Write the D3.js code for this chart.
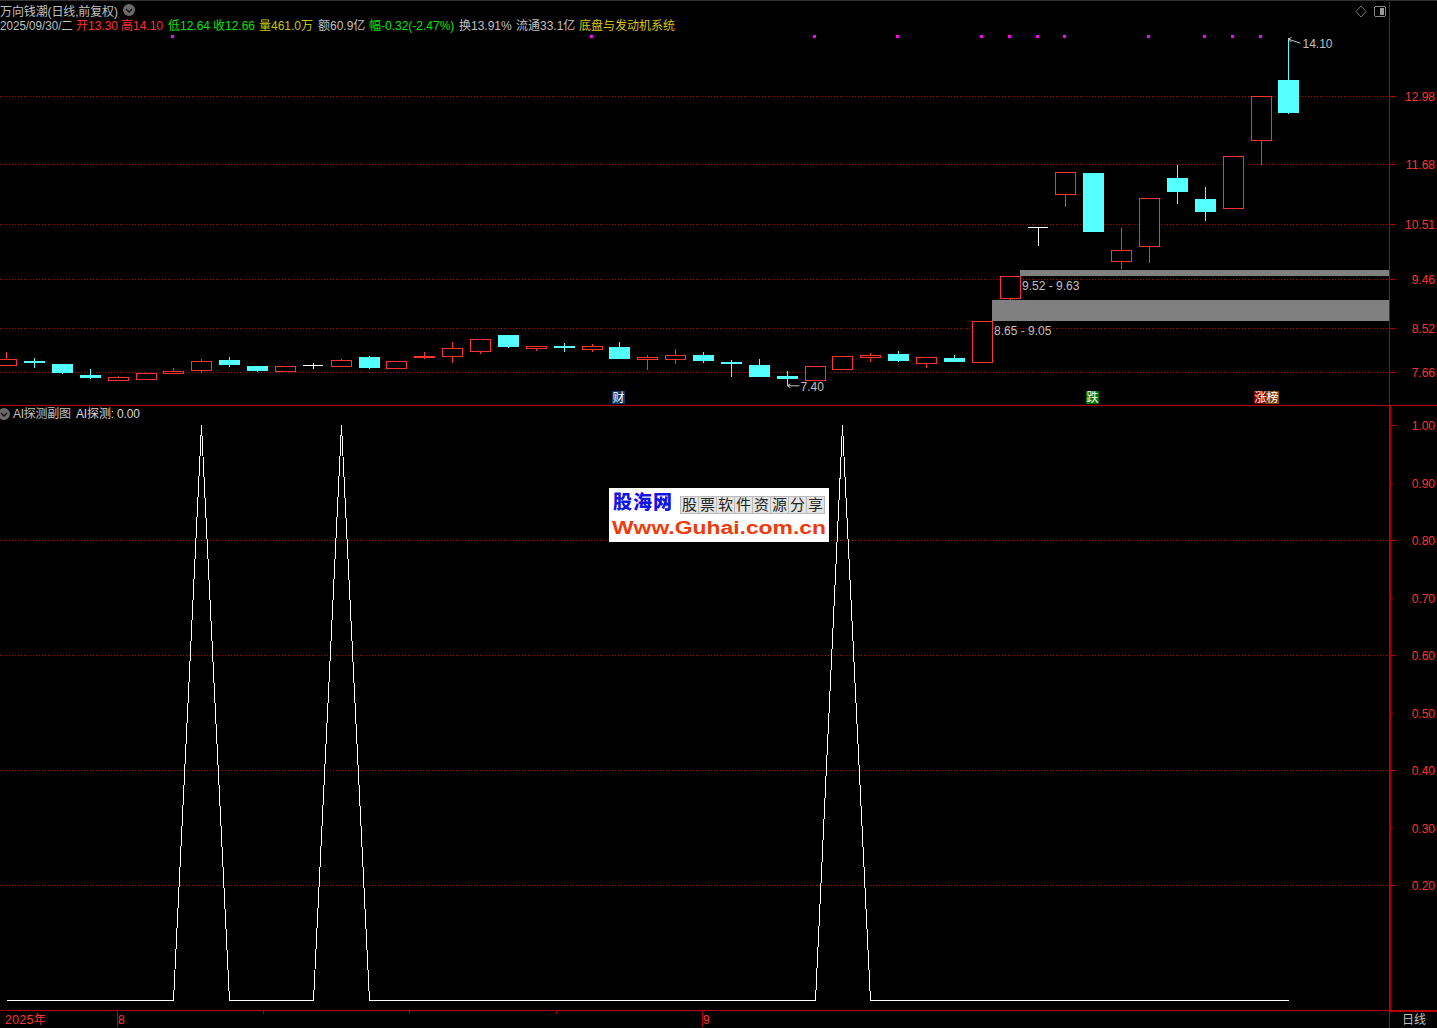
<!DOCTYPE html>
<html><head><meta charset="utf-8">
<script src="https://cdn.jsdelivr.net/npm/d3@7/dist/d3.min.js"></script>
<style>
html,body{margin:0;padding:0;background:#000;overflow:hidden}
svg{display:block}
text{font-family:"Liberation Sans","Noto Sans CJK SC",sans-serif;font-size:12px}
</style></head><body>
<script>
const opens =[7.81,7.88,7.82,7.61,7.52,7.54,7.64,7.70,7.90,7.79,7.68,7.80,7.79,7.96,7.75,7.95,7.98,8.08,8.37,8.12,8.17,8.10,8.15,7.91,7.91,8.00,7.86,7.80,7.59,7.52,7.73,7.95,8.02,7.83,7.94,7.85,9.10,10.46,11.09,11.51,9.80,10.10,11.40,11.01,10.83,12.14,13.30];
const closes=[7.92,7.84,7.65,7.55,7.57,7.65,7.68,7.88,7.80,7.69,7.78,7.80,7.90,7.75,7.88,7.98,8.13,8.30,8.15,8.17,8.13,8.17,7.92,7.95,7.99,7.88,7.82,7.57,7.53,7.78,7.97,7.99,7.88,7.95,7.86,8.65,9.52,10.46,11.53,10.37,10.02,11.02,11.13,10.75,11.82,12.99,12.66];
const highs =[8.06,7.93,7.82,7.73,7.59,7.65,7.75,7.92,7.96,7.79,7.78,7.84,7.92,7.98,7.88,8.06,8.25,8.30,8.38,8.17,8.23,8.21,8.25,8.00,8.11,8.06,7.90,7.92,7.69,7.78,7.97,8.04,8.08,7.95,8.00,8.65,9.52,10.46,11.53,11.51,10.45,11.02,11.65,11.24,11.82,12.99,14.10];
const lows  =[7.81,7.75,7.63,7.53,7.52,7.52,7.64,7.64,7.77,7.66,7.68,7.73,7.77,7.72,7.75,7.92,7.83,8.02,8.12,8.08,8.06,8.06,7.92,7.71,7.82,7.84,7.57,7.57,7.40,7.50,7.73,7.86,7.86,7.75,7.86,7.85,9.06,10.10,10.84,10.37,9.65,9.76,10.90,10.57,10.83,11.65,12.64];
const probe =[0,0,0,0,0,0,0,1,0,0,0,0,1,0,0,0,0,0,0,0,0,0,0,0,0,0,0,0,0,0,1,0,0,0,0,0,0,0,0,0,0,0,0,0,0,0,0];
const signalIdx=[6,21,29,32,35,36,37,38,41,43,44,45];
const priceTicks=[12.98,11.68,10.51,9.46,8.52,7.66];
const probeTicks=[1,0.9,0.8,0.7,0.6,0.5,0.4,0.3,0.2];
const probeGrid=[0.8,0.6,0.4,0.2];
const zoneStart=[35,36], zoneLow=[8.65,9.52], zoneHigh=[9.05,9.63];
const zoneLabels=["8.65 - 9.05","9.52 - 9.63"];
const monthIdx=[4,25], monthLabels=["8","9"], minorIdx=[9.25,14.5,19.75];
const headerTexts=["2025/09/30/二","开13.30","高14.10","低12.64","收12.66","量461.0万","额60.9亿","幅-0.32(-2.47%)","换13.91%","流通33.1亿","底盘与发动机系统"];
const headerX=[0,76,121,168,213,259,318,369,459,516,579];
const headerC=["#c0c0c0","#ff3232","#ff3232","#00e600","#00e600","#c8c800","#c0c0c0","#00e600","#c0c0c0","#c0c0c0","#d8c800"];
const badges=[["财",612,"#0a3d6e"],["跌",1086,"#007000"],["涨",1254,"#800000"],["榜",1266,"#804000"]];

const RED="#ff3232",DARK="#b80000",CY="#54ffff",GREY="#c0c0c0";
const svg=d3.select("body").append("svg").attr("width",1437).attr("height",1028);
svg.append("rect").attr("width",1437).attr("height",1028).attr("fill","#000");
const x=d3.scaleLinear().domain([0,46]).range([5.75,1288]);
const yP=d3.scaleLinear().domain([7.66,12.98]).range([372.3,96.3]);
const yA=d3.scaleLinear().domain([0,1]).range([1000,425]);
const px=i=>Math.ceil(x(i));
const crisp=svg.append("g").attr("shape-rendering","crispEdges");
const ln=(g,x1,y1,x2,y2,c,w=1,d)=>g.append("line").attr("x1",x1).attr("y1",y1).attr("x2",x2).attr("y2",y2).attr("stroke",c).attr("stroke-width",w).attr("stroke-dasharray",d||null);
const txt=(t,xx,yy,c,a)=>svg.append("text").text(t).attr("x",xx).attr("y",yy).attr("fill",c).attr("text-anchor",a||"start");

// frame
crisp.append("rect").attr("x",0).attr("y",0).attr("width",1437).attr("height",1).attr("fill","#333");
ln(crisp,0,405.5,1437,405.5,DARK);
ln(crisp,0,1010.5,1389,1010.5,DARK);
ln(crisp,1389.5,2,1389.5,405,DARK);
crisp.append("rect").attr("x",1389).attr("y",406).attr("width",2).attr("height",605).attr("fill",DARK);
crisp.append("rect").attr("x",1389).attr("y",1010).attr("width",48).attr("height",2).attr("fill",DARK);
ln(crisp,1389.5,1012,1389.5,1028,DARK);

// grids
priceTicks.forEach(t=>{const y=Math.round(yP(t))+.5;
  ln(crisp,0,y,1389,y,DARK,1,"1 2");ln(crisp,1390,y,1395,y,DARK);
  txt(d3.format(".2f")(t),1435,y+4,RED,"end");});
probeGrid.forEach(t=>{const y=Math.floor(yA(t))+.5;ln(crisp,0,y,1389,y,DARK,1,"1 2");});
probeTicks.forEach(t=>{const y=Math.ceil(yA(t))+.5,major=probeGrid.includes(t)||t===1;
  ln(crisp,1391,y,major?1396:1393,y,DARK);
  txt(d3.format(".2f")(t),1435,y+4,RED,"end");});

// zones
zoneStart.forEach((s,i)=>{const l=px(s)+10,top=Math.round(yP(zoneHigh[i])),bot=Math.round(yP(zoneLow[i]));
  crisp.append("rect").attr("x",l).attr("y",top).attr("width",1389-l).attr("height",bot-top).attr("fill","#808080");
  txt(zoneLabels[i],l+2,bot+14,GREY);});

// candles
opens.forEach((o,i)=>{
  const c=closes[i],cx=px(i),w=cx+.5;
  const col=o===c?"#fff":(c>o?RED:CY);
  const t=Math.round(yP(Math.max(o,c))),b=Math.round(yP(Math.min(o,c)));
  ln(crisp,w,Math.round(yP(highs[i])),w,Math.round(yP(lows[i])),col);
  if(o===c){ln(crisp,cx-10,t+.5,cx+10,t+.5,col);}
  else if(c>o){crisp.append("rect").attr("x",cx-9.5).attr("y",t+.5).attr("width",20).attr("height",Math.max(1,b-t)).attr("fill","#000").attr("stroke",col);}
  else{crisp.append("rect").attr("x",cx-10).attr("y",t).attr("width",21).attr("height",Math.max(2,b-t)).attr("fill",col);}
});
// signals
signalIdx.forEach(i=>crisp.append("rect").attr("x",px(i)-2).attr("y",35).attr("width",3).attr("height",3).attr("fill","#ff00ff"));

// extreme labels
const iMax=highs.indexOf(d3.max(highs)),iMin=lows.indexOf(d3.min(lows));
const ax=px(iMax)+.5,ay=yP(highs[iMax]);
svg.append("path").attr("d",`M${ax},${ay+1}L${ax+12},${ay+5}M${ax},${ay+1}L${ax+3},${ay-1}M${ax},${ay+1}L${ax+3},${ay+4}`).attr("stroke",GREY).attr("fill","none");
txt("14.10",ax+14,ay+9.5,GREY);
const bx=px(iMin)+.5,by=yP(lows[iMin]);
svg.append("path").attr("d",`M${bx},${by}L${bx+12},${by}M${bx},${by}L${bx+3},${by-2}M${bx},${by}L${bx+3},${by+2}`).attr("stroke",GREY).attr("fill","none");
txt("7.40",bx+13,by+5,GREY);

// badges
badges.forEach(([t,l,c])=>{crisp.append("rect").attr("x",l).attr("y",391).attr("width",13).attr("height",13).attr("fill",c);
  txt(t,l+6.5,402,"#fff","middle");});

// probe line
const line=d3.line().x((d,i)=>px(i)+.5).y(d=>Math.floor(yA(d))+.5);
crisp.append("path").datum(probe).attr("d",line).attr("fill","none").attr("stroke","#fff");

// time axis
txt("2025年",5,1024,RED).attr("textLength",41);
monthIdx.forEach((m,i)=>{const xx=Math.floor(x(m))+.5;ln(crisp,xx,1011,xx,1027,DARK);txt(monthLabels[i],xx+.5,1024,RED);});
minorIdx.forEach(m=>{const xx=Math.floor(x(m))+.5;ln(crisp,xx,1011,xx,1014,DARK);});
txt("日线",1402,1024,GREY);

// headers
txt("万向钱潮(日线,前复权)",0,16,GREY).attr("textLength",118);
headerTexts.forEach((t,i)=>{const n=txt(t,headerX[i],30,headerC[i]);if(i===0)n.attr("textLength",73).attr("lengthAdjust","spacingAndGlyphs");});
txt("AI探测副图",13,418,GREY).attr("textLength",58);
txt("AI探测: 0.00",76,418,"#d8d8d8").attr("textLength",64);
function chevron(cx,cy){svg.append("circle").attr("cx",cx).attr("cy",cy).attr("r",6).attr("fill","#6a6a6a");
  svg.append("path").attr("d",`M${cx-3},${cy-1}L${cx},${cy+2}L${cx+3},${cy-1}`).attr("stroke","#111").attr("stroke-width",1.3).attr("fill","none");}
chevron(129,10);chevron(4,414);

// window icons
svg.append("path").attr("d","M1361,6L1366,11.5L1361,17L1356,11.5Z").attr("fill","none").attr("stroke","#777");
crisp.append("rect").attr("x",1374.5).attr("y",6.5).attr("width",11).attr("height",10).attr("rx",2).attr("fill","none").attr("stroke","#888");
crisp.append("rect").attr("x",1380).attr("y",8).attr("width",4).attr("height",7).attr("fill","#999");

// watermark
svg.append("rect").attr("x",609).attr("y",488).attr("width",220).attr("height",54).attr("fill","#fff");
svg.append("text").text("股海网").attr("x",613).attr("y",509).attr("fill","#1414e6").attr("textLength",59).style("font-size","19px").style("font-weight","900").style("font-family","'Noto Sans CJK SC'");
const wm="股票软件资源分享".split("");
wm.forEach((ch,i)=>{svg.append("rect").attr("x",680.5+i*18).attr("y",496.5).attr("width",18).attr("height",17).attr("fill","#e4e4e4").attr("stroke","#bbb").attr("shape-rendering","crispEdges");
  svg.append("text").text(ch).attr("x",689.5+i*18).attr("y",510).attr("text-anchor","middle").attr("fill","#222").style("font-size","15px").style("font-family","'Noto Sans CJK SC'");});
svg.append("text").text("Www.Guhai.com.cn").attr("x",612).attr("y",534).attr("fill","#f03a0a").attr("textLength",214).attr("lengthAdjust","spacingAndGlyphs").style("font-size","18px").style("font-weight","700");
</script>
</body></html>
